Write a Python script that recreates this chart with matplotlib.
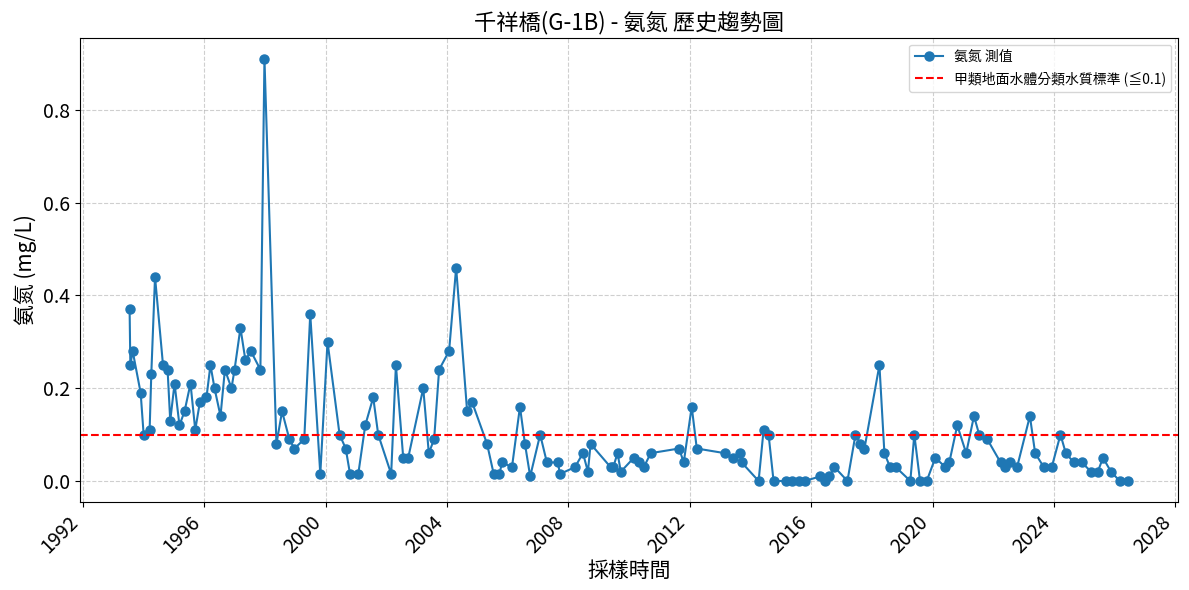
import matplotlib
matplotlib.use("Agg")
import matplotlib.pyplot as plt
import matplotlib.dates as mdates
import pandas as pd

plt.rcParams['font.family'] = ['Noto Sans CJK TC', 'DejaVu Sans']
plt.rcParams['axes.unicode_minus'] = False

# sampling dates and NH3-N values (mg/L)
dates = [
    "1993-07-18", "1993-07-27", "1993-08-24", "1993-11-28", "1994-01-03", "1994-03-16",
    "1994-04-05", "1994-05-20", "1994-08-24", "1994-10-18", "1994-11-19", "1995-01-10",
    "1995-03-10", "1995-05-10", "1995-07-21", "1995-09-16", "1995-11-11", "1996-01-29",
    "1996-03-17", "1996-05-05", "1996-07-16", "1996-09-07", "1996-11-25", "1997-01-01",
    "1997-03-13", "1997-05-12", "1997-07-16", "1997-11-08", "1997-12-27", "1998-05-20",
    "1998-07-27", "1998-10-23", "1998-12-22", "1999-04-20", "1999-07-01", "1999-10-30",
    "2000-01-25", "2000-06-18", "2000-08-31", "2000-10-22", "2001-01-29", "2001-04-23",
    "2001-07-28", "2001-09-26", "2002-03-01", "2002-04-27", "2002-07-24", "2002-09-22",
    "2003-03-22", "2003-05-28", "2003-07-31", "2003-09-29", "2004-01-27", "2004-04-21",
    "2004-08-31", "2004-10-30", "2005-04-28", "2005-07-17", "2005-09-24", "2005-10-25",
    "2006-02-22", "2006-05-29", "2006-07-28", "2006-09-29", "2007-01-27", "2007-04-18",
    "2007-08-28", "2007-09-22", "2008-03-22", "2008-06-25", "2008-08-24", "2008-09-25",
    "2009-05-23", "2009-06-25", "2009-08-15", "2009-09-24", "2010-02-27", "2010-05-03",
    "2010-06-28", "2010-09-19", "2011-08-26", "2011-10-21", "2012-01-25", "2012-03-26",
    "2013-02-25", "2013-06-06", "2013-08-24", "2013-09-17", "2014-04-09", "2014-06-08",
    "2014-08-07", "2014-10-06", "2015-02-27", "2015-05-10", "2015-08-14", "2015-10-18",
    "2016-04-20", "2016-06-15", "2016-08-09", "2016-10-08", "2017-03-13", "2017-06-18",
    "2017-08-17", "2017-10-04", "2018-04-02", "2018-06-01", "2018-08-08", "2018-10-15",
    "2019-04-09", "2019-05-27", "2019-08-04", "2019-10-23", "2020-02-04", "2020-06-03",
    "2020-07-21", "2020-10-25", "2021-02-09", "2021-05-14", "2021-07-16", "2021-10-21",
    "2022-03-30", "2022-05-24", "2022-07-19", "2022-10-15", "2023-03-18", "2023-05-20",
    "2023-09-01", "2023-12-06", "2024-03-20", "2024-05-23", "2024-08-27", "2024-12-01",
    "2025-03-24", "2025-06-12", "2025-08-14", "2025-11-18", "2026-03-03", "2026-06-15",
]
values = [
    0.37, 0.25, 0.28, 0.19, 0.10, 0.11,
    0.23, 0.44, 0.25, 0.24, 0.13, 0.21,
    0.12, 0.15, 0.21, 0.11, 0.17, 0.18,
    0.25, 0.20, 0.14, 0.24, 0.20, 0.24,
    0.33, 0.26, 0.28, 0.24, 0.91, 0.08,
    0.15, 0.09, 0.07, 0.09, 0.36, 0.015,
    0.30, 0.10, 0.07, 0.015, 0.015, 0.12,
    0.18, 0.10, 0.015, 0.25, 0.05, 0.05,
    0.20, 0.06, 0.09, 0.24, 0.28, 0.46,
    0.15, 0.17, 0.08, 0.015, 0.015, 0.04,
    0.03, 0.16, 0.08, 0.01, 0.10, 0.04,
    0.04, 0.015, 0.03, 0.06, 0.02, 0.08,
    0.03, 0.03, 0.06, 0.02, 0.05, 0.04,
    0.03, 0.06, 0.07, 0.04, 0.16, 0.07,
    0.06, 0.05, 0.06, 0.04, 0.0, 0.11,
    0.10, 0.0, 0.0, 0.0, 0.0, 0.0,
    0.01, 0.0, 0.01, 0.03, 0.0, 0.10,
    0.08, 0.07, 0.25, 0.06, 0.03, 0.03,
    0.0, 0.10, 0.0, 0.0, 0.05, 0.03,
    0.04, 0.12, 0.06, 0.14, 0.10, 0.09,
    0.04, 0.03, 0.04, 0.03, 0.14, 0.06,
    0.03, 0.03, 0.10, 0.06, 0.04, 0.04,
    0.02, 0.02, 0.05, 0.02, 0.0, 0.0,
]
standard = 0.1

df = pd.DataFrame({'date': pd.to_datetime(dates), 'value': values})

fig, ax = plt.subplots(figsize=(11.89, 5.9), dpi=100)

ax.plot(df['date'], df['value'], marker='o', markersize=6.5, linewidth=1.5,
        color='#1f77b4', label='氨氮 測值')
ax.axhline(standard, color='red', linestyle='--', linewidth=1.5,
           label='甲類地面水體分類水質標準 (≦0.1)')

ax.set_title('千祥橋(G-1B) - 氨氮 歷史趨勢圖', fontsize=16)
ax.set_xlabel('採樣時間', fontsize=15, labelpad=2)
ax.set_ylabel('氨氮 (mg/L)', fontsize=15)

ax.xaxis.set_major_locator(mdates.YearLocator(4))
ax.xaxis.set_major_formatter(mdates.DateFormatter('%Y'))
plt.setp(ax.get_xticklabels(), rotation=45, ha='right')
ax.tick_params(axis='both', labelsize=14)

ax.grid(True, linestyle='--', alpha=0.6)
ax.legend(loc='upper right', fontsize=10)

fig.subplots_adjust(left=0.067, right=0.991, top=0.936, bottom=0.149)
fig.savefig('out.png', dpi=100)
